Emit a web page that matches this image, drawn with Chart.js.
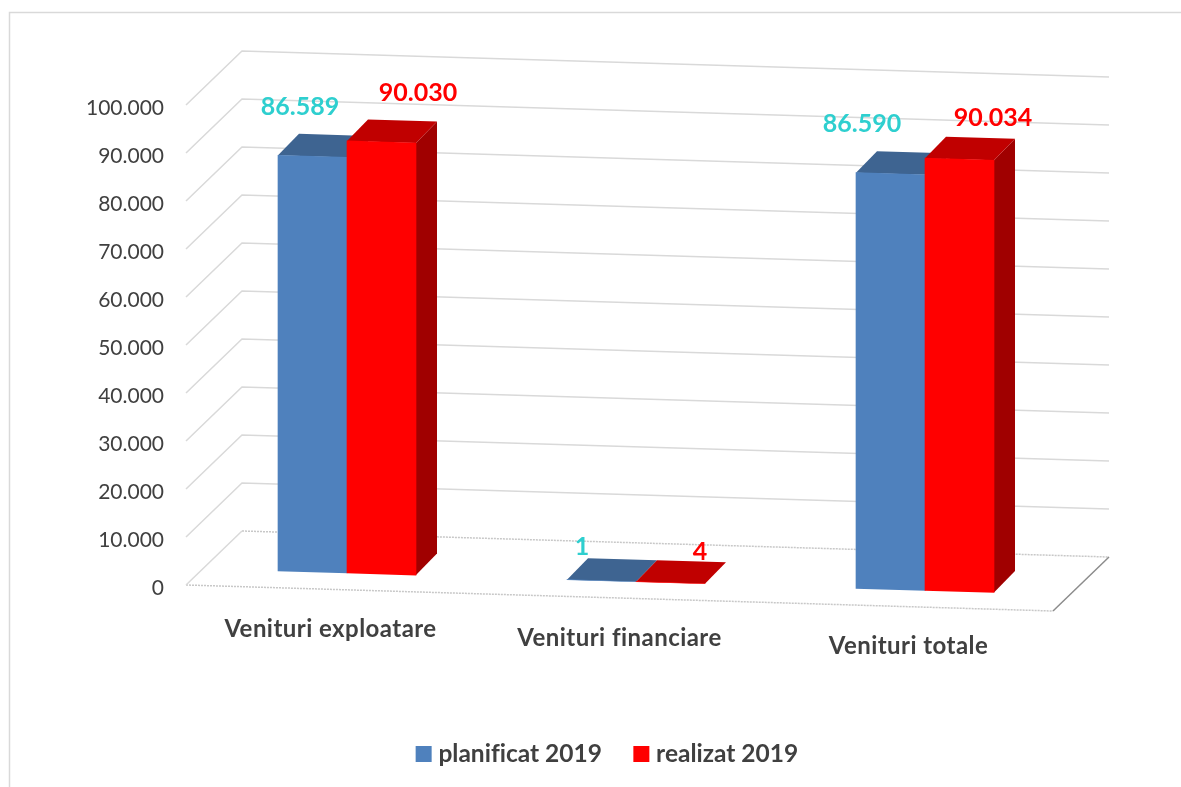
<!DOCTYPE html>
<html>
<head>
<meta charset="utf-8">
<script src="https://cdn.jsdelivr.net/npm/chart.js@4/dist/chart.umd.min.js"></script>
<style>
  html, body { margin: 0; background: #fff; }
  canvas { display: block; }
</style>
</head>
<body>
<canvas id="chart" width="1181" height="787"></canvas>
<script>
const categories = ['Venituri exploatare', 'Venituri financiare', 'Venituri totale'];
const seriesNames = ['planificat 2019', 'realizat 2019'];
const planificat = [86589, 1, 86590];
const realizat = [90030, 4, 90034];

const FONT = 'Lato';
const TEXT_COLOR = '#404040';
const SLOPE = 0.03;               // the floor runs downhill to the right
const WALL = { x: 56, y: -54 };   // side wall depth
const PLANE = { x: 16.5, y: -16.3 }; // bars stand a bit behind the front edge
const DEPTH = { x: 21, y: -21.5 };   // bar depth
const FACES = [
  { top: '#3E6491', side: '#34547A', label: '#2ECFCF' },
  { top: '#C00000', side: '#A00000', label: '#FF0000' },
];
// value labels were moved by hand in the original
const NUDGE = [
  [[-12.5, -49.7], [-19.5, -34], [-28.5, -49.7]],
  [[36.5, -49.4], [29.5, -30.7], [33.5, -41.7]],
];
const CAT_LABEL_Y = 625;

const formatTick = (v) => String(v).replace(/\B(?=(\d{3})+$)/g, '.');

function drawBars(chart, i) {
  const { ctx, chartArea: a } = chart;
  const meta = chart.getDatasetMeta(i);
  const face = FACES[i];
  const dx = DEPTH.x;
  const dy = DEPTH.y - DEPTH.x * SLOPE; // undo the skew for the depth vector
  ctx.save();
  // bars go through the same skew as the floor
  ctx.transform(1, SLOPE, 0, 1, PLANE.x, PLANE.y - SLOPE * a.left);
  meta.data.forEach((bar) => {
    const l = bar.x - bar.width / 2;
    const r = bar.x + bar.width / 2;
    ctx.fillStyle = face.side;
    ctx.beginPath();
    ctx.moveTo(r, bar.y);
    ctx.lineTo(r + dx, bar.y + dy);
    ctx.lineTo(r + dx, bar.base + dy);
    ctx.lineTo(r, bar.base);
    ctx.closePath();
    ctx.fill();
    ctx.fillStyle = face.top;
    ctx.beginPath();
    ctx.moveTo(l, bar.y);
    ctx.lineTo(l + dx, bar.y + dy);
    ctx.lineTo(r + dx, bar.y + dy);
    ctx.lineTo(r, bar.y);
    ctx.closePath();
    ctx.fill();
  });
  meta.controller.draw();
  ctx.restore();
}

const perspective = {
  id: 'perspective',
  afterLayout(chart) {
    // the original legend is centred under the plot, not the page
    const lg = chart.legend;
    const h = lg.height;
    lg.left += 83; lg.right += 83;
    lg.top = 754 - lg.options.labels.padding - lg.options.labels.font.size / 2;
    lg.bottom = lg.top + h;
  },
  beforeDraw(chart) {
    const { ctx } = chart;
    ctx.textRendering = 'optimizeSpeed'; // no fi ligatures
    ctx.save();
    ctx.strokeStyle = '#D9D9D9';
    ctx.lineWidth = 1.5;
    ctx.beginPath();
    ctx.moveTo(9.5, 787);
    ctx.lineTo(9.5, 12.5);
    ctx.lineTo(1181, 12.5);
    ctx.stroke();
    ctx.restore();
  },
  beforeDatasetsDraw(chart) {
    const { ctx, chartArea: a, scales } = chart;
    const run = a.right - a.left;
    ctx.save();
    ctx.strokeStyle = '#D9D9D9';
    ctx.lineWidth = 1.5;
    scales.y.ticks.forEach((t) => {
      if (t.value === 0) return;
      const y = scales.y.getPixelForValue(t.value);
      ctx.beginPath();
      ctx.moveTo(a.left, y);
      ctx.lineTo(a.left + WALL.x, y + WALL.y);
      ctx.lineTo(a.right + WALL.x, y + WALL.y + run * SLOPE);
      ctx.stroke();
    });
    // floor
    const y0 = scales.y.getPixelForValue(0);
    ctx.strokeStyle = '#C8C8C8';
    ctx.lineWidth = 1.5;
    ctx.setLineDash([2, 1]);
    ctx.beginPath();
    ctx.moveTo(a.left, y0);
    ctx.lineTo(a.right, y0 + run * SLOPE);
    ctx.moveTo(a.left + WALL.x, y0 + WALL.y);
    ctx.lineTo(a.right + WALL.x, y0 + WALL.y + run * SLOPE);
    ctx.stroke();
    ctx.setLineDash([]);
    ctx.strokeStyle = '#D9D9D9';
    ctx.beginPath();
    ctx.moveTo(a.left, y0);
    ctx.lineTo(a.left + WALL.x, y0 + WALL.y);
    ctx.stroke();
    ctx.strokeStyle = '#8C8C8C';
    ctx.beginPath();
    ctx.moveTo(a.right, y0 + run * SLOPE);
    ctx.lineTo(a.right + WALL.x, y0 + WALL.y + run * SLOPE);
    ctx.stroke();
    ctx.restore();
    // blue first so the red front hides the back of its top face
    drawBars(chart, 0);
    drawBars(chart, 1);
  },
  beforeDatasetDraw() {
    return false; // already drawn above, in our own order
  },
  afterDatasetsDraw(chart) {
    const { ctx, chartArea: a, scales } = chart;
    ctx.save();
    ctx.textAlign = 'center';
    ctx.textBaseline = 'middle';

    ctx.font = `bold 25px ${FONT}`;
    chart.data.datasets.forEach((ds, i) => {
      ctx.fillStyle = FACES[i].label;
      chart.getDatasetMeta(i).data.forEach((bar, j) => {
        const x = bar.x + PLANE.x + NUDGE[i][j][0];
        const y = bar.y + SLOPE * (bar.x - a.left) + PLANE.y + NUDGE[i][j][1];
        ctx.fillText(formatTick(ds.data[j]), x, y);
      });
    });

    // category labels follow the floor slope
    ctx.font = `bold 24px ${FONT}`;
    ctx.letterSpacing = '0.45px';
    ctx.fillStyle = TEXT_COLOR;
    categories.forEach((c, j) => {
      const x = scales.x.getPixelForTick(j);
      ctx.fillText(c, x, CAT_LABEL_Y + SLOPE * (x - a.left));
    });
    ctx.restore();
  },
};

new Chart(document.getElementById('chart'), {
  type: 'bar',
  data: {
    labels: categories,
    datasets: [
      { label: seriesNames[0], data: planificat, backgroundColor: '#4F81BD', barThickness: 69 },
      { label: seriesNames[1], data: realizat, backgroundColor: '#FF0000', barThickness: 69 },
    ],
  },
  options: {
    responsive: false,
    animation: false,
    layout: { padding: { top: 105, right: 128, bottom: 0, left: 0 } },
    plugins: {
      tooltip: { enabled: false },
      legend: {
        position: 'bottom',
        labels: {
          usePointStyle: true,
          pointStyle: 'rect',
          boxWidth: 5,   // keeps the text close to the swatch
          boxHeight: 16,
          padding: 37,
          color: TEXT_COLOR,
          font: { family: FONT, size: 24.5, weight: 'bold' },
        },
      },
    },
    scales: {
      x: {
        grid: { display: false },
        border: { display: false },
        ticks: { display: false },
        afterFit(s) { s.height = 787 - 585 - s.chart.legend.height; },
      },
      y: {
        min: 0,
        max: 100000,
        grid: { display: false, drawTicks: false },
        border: { display: false },
        ticks: {
          stepSize: 10000,
          padding: 22,
          labelOffset: 3,
          color: TEXT_COLOR,
          font: { family: FONT, size: 21 },
          callback: (v) => formatTick(v),
        },
        afterFit(s) { s.width = 186; },
      },
    },
  },
  plugins: [perspective],
});
</script>
</body>
</html>
